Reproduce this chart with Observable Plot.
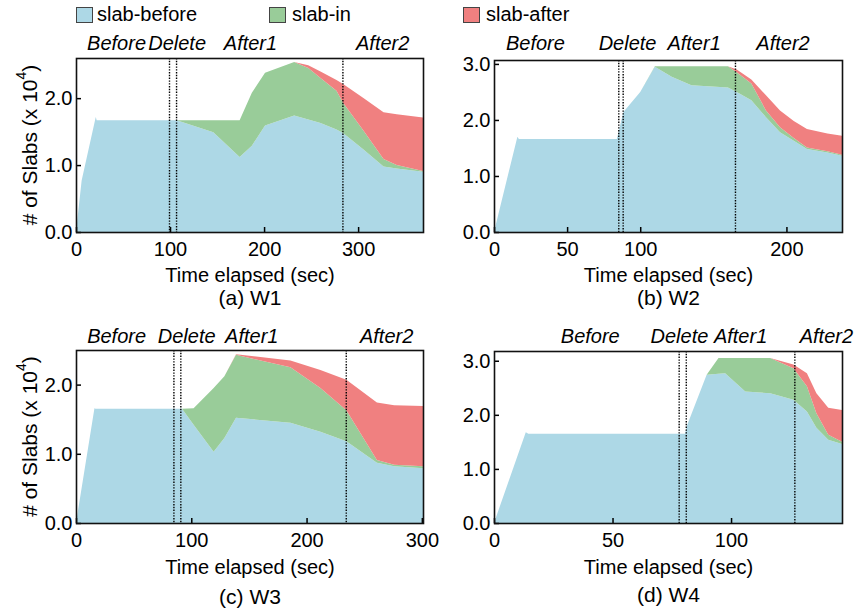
<!DOCTYPE html>
<html><head><meta charset="utf-8">
<script src="https://cdn.jsdelivr.net/npm/d3@7"></script>
<script src="https://cdn.jsdelivr.net/npm/@observablehq/plot@0.6"></script>
<style>
body{margin:0;background:#fff;font-family:"Liberation Sans",Arial,sans-serif;color:#000;}
#root{position:relative;width:857px;height:614px;overflow:hidden;}
.lg-sw{position:absolute;top:7px;width:15px;height:14px;border:1px solid #444;}
.lg-tx{position:absolute;top:3px;font-size:20px;line-height:22px;}
</style></head><body><div id="root"></div>
<script>
// ---------- data ----------
const seriesNames = ["slab-before", "slab-in", "slab-after"];
const seriesColors = ["#add8e6", "#99cc99", "#f08080"];
const phaseNames = ["Before", "Delete", "After1", "After2"];
const captions = ["(a) W1", "(b) W2", "(c) W3", "(d) W4"];
const xLabel = "Time elapsed (sec)";

// W1
const w1Time   = [0, 6, 21, 22, 107, 146, 174, 187, 201, 232, 247, 260, 277, 284, 306, 327, 341, 369];
const w1Before = [0, 0.77, 1.72, 1.67, 1.67, 1.49, 1.12, 1.29, 1.59, 1.74, 1.68, 1.63, 1.53, 1.48, 1.23, 0.98, 0.95, 0.90];
const w1In     = [0, 0, 0, 0, 0, 0.18, 0.55, 0.79, 0.79, 0.80, 0.77, 0.67, 0.58, 0.45, 0.28, 0.11, 0.05, 0.01];
const w1After  = [0, 0, 0, 0, 0, 0, 0, 0, 0, 0, 0.04, 0.10, 0.16, 0.28, 0.49, 0.70, 0.76, 0.80];
const w1PhaseLines = [98.9, 106.4, 283.3];
const w1PhaseLabelX = [42.6, 107, 185, 325.6];
const w1XTicks = [0, 100, 200, 300];
const w1YTicks = [0, 1, 2];

// W2
const w2Time   = [0, 16, 17, 84, 88.5, 100, 110, 121.5, 135, 160, 166, 176, 186, 195.6, 205, 214, 228, 238];
const w2Before = [0, 1.70, 1.66, 1.66, 2.14, 2.50, 2.95, 2.77, 2.62, 2.58, 2.50, 2.35, 2.05, 1.78, 1.63, 1.48, 1.42, 1.36];
const w2In     = [0, 0, 0, 0, 0, 0, 0.01, 0.19, 0.34, 0.38, 0.35, 0.30, 0.12, 0.09, 0.05, 0.03, 0.02, 0.02];
const w2After  = [0, 0, 0, 0, 0, 0, 0, 0, 0, 0, 0.05, 0.07, 0.27, 0.30, 0.30, 0.33, 0.32, 0.34];
const w2PhaseLines = [85, 88, 164.8];
const w2PhaseLabelX = [28, 91, 136.5, 197.3];
const w2XTicks = [0, 50, 100, 200];
const w2YTicks = [0, 1, 2, 3];

// W3
const w3Time   = [0, 16, 17, 92, 102, 119.4, 128.7, 138.8, 186, 212, 234.5, 261, 276, 301];
const w3Before = [0, 1.66, 1.65, 1.65, 1.42, 1.03, 1.23, 1.52, 1.45, 1.32, 1.18, 0.87, 0.82, 0.79];
const w3In     = [0, 0, 0, 0, 0.24, 0.92, 0.89, 0.91, 0.80, 0.63, 0.45, 0.04, 0.02, 0.03];
const w3After  = [0, 0, 0, 0, 0, 0, 0, 0.01, 0.10, 0.26, 0.44, 0.83, 0.86, 0.87];
const w3PhaseLines = [84.5, 90.5, 234];
const w3PhaseLabelX = [34.8, 95.6, 152, 269];
const w3XTicks = [0, 100, 200, 300];
const w3YTicks = [0, 1, 2];

// W4
const w4Time   = [0, 13.4, 14.5, 80.6, 81.3, 89.7, 94.7, 97.5, 106, 116.5, 126.3, 132, 136, 141, 146.8];
const w4Before = [0, 1.68, 1.65, 1.65, 1.79, 2.74, 2.76, 2.77, 2.43, 2.40, 2.28, 2.06, 1.76, 1.54, 1.46];
const w4In     = [0, 0, 0, 0, 0, 0, 0.29, 0.28, 0.62, 0.65, 0.58, 0.47, 0.27, 0.09, 0.04];
const w4After  = [0, 0, 0, 0, 0, 0, 0, 0, 0, 0, 0.07, 0.24, 0.37, 0.50, 0.59];
const w4PhaseLines = [77.9, 80.9, 126.7];
const w4PhaseLabelX = [40.4, 78, 103.8, 140];
const w4XTicks = [0, 50, 100];
const w4YTicks = [0, 1, 2, 3];

// ---------- layout ----------
const panels = [
  {time: w1Time, s: [w1Before, w1In, w1After], lines: w1PhaseLines, lx: w1PhaseLabelX, xt: w1XTicks, yt: w1YTicks,
   xmax: 369, ymax: 2.6, left: 0, top: 28, width: 430, mL: 76, mR: 7, mT: 30, fh: 174, mB: 80, phaseDy: -15, labDy: 43, capDy: 66, ylabel: true},
  {time: w2Time, s: [w2Before, w2In, w2After], lines: w2PhaseLines, lx: w2PhaseLabelX, xt: w2XTicks, yt: w2YTicks,
   xmax: 238, ymax: 3.07, left: 430, top: 28, width: 427, mL: 64, mR: 15, mT: 32, fh: 172, mB: 80, phaseDy: -17, labDy: 43, capDy: 66, ylabel: false},
  {time: w3Time, s: [w3Before, w3In, w3After], lines: w3PhaseLines, lx: w3PhaseLabelX, xt: w3XTicks, yt: w3YTicks,
   xmax: 301, ymax: 2.5, left: 0, top: 318, width: 430, mL: 76, mR: 7, mT: 32, fh: 173, mB: 91, phaseDy: -14, labDy: 44, capDy: 74, ylabel: true},
  {time: w4Time, s: [w4Before, w4In, w4After], lines: w4PhaseLines, lx: w4PhaseLabelX, xt: w4XTicks, yt: w4YTicks,
   xmax: 146.8, ymax: 3.18, left: 430, top: 318, width: 427, mL: 64, mR: 15, mT: 33, fh: 172, mB: 91, phaseDy: -15, labDy: 44, capDy: 72, ylabel: false}
];

const root = document.getElementById("root");

// legend
const legendPos = [[76, 97], [269, 292], [463, 486]];
seriesNames.forEach((name, i) => {
  const sw = document.createElement("div");
  sw.className = "lg-sw";
  sw.style.left = legendPos[i][0] + "px";
  sw.style.background = seriesColors[i];
  root.appendChild(sw);
  const tx = document.createElement("div");
  tx.className = "lg-tx";
  tx.style.left = legendPos[i][1] + "px";
  tx.textContent = name;
  root.appendChild(tx);
});

panels.forEach((p, pi) => {
  const rows = [];
  p.time.forEach((t, i) => {
    seriesNames.forEach((name, k) => rows.push({t, v: p.s[k][i], series: name}));
  });
  const height = p.mT + p.fh + p.mB;
  const fw = p.width - p.mL - p.mR;
  const svg = Plot.plot({
    width: p.width, height,
    marginLeft: p.mL, marginRight: p.mR, marginTop: p.mT, marginBottom: p.mB,
    style: {fontFamily: "Liberation Sans, Arial, sans-serif", fontSize: "20px", color: "#000", background: "transparent", overflow: "visible"},
    x: {domain: [0, p.xmax]},
    y: {domain: [0, p.ymax]},
    color: {domain: seriesNames, range: seriesColors},
    marks: [
      Plot.areaY(rows, {x: "t", y: "v", z: "series", fill: "series"}),
      Plot.ruleX(p.lines, {x: d => d, stroke: "#000", strokeWidth: 1.4, strokeDasharray: "1.4,1.4"}),
      Plot.tickX(p.xt, {x: d => d, stroke: "#000", strokeWidth: 1.5, insetTop: p.fh - 5}),
      Plot.tickY(p.yt, {y: d => d, stroke: "#000", strokeWidth: 1.5, insetRight: fw - 5}),
      Plot.axisX({ticks: p.xt, tickSize: 0, tickPadding: 9, label: null, tickFormat: "d", fontSize: 20}),
      Plot.axisY({ticks: p.yt, tickSize: 0, tickPadding: 4, label: null, tickFormat: ".1f", fontSize: 20}),
      Plot.text(phaseNames, {x: (d, i) => p.lx[i], text: d => d, frameAnchor: "top", dy: p.phaseDy, lineAnchor: "middle", fontStyle: "italic", fontSize: 20}),
      Plot.text([xLabel], {text: d => d, frameAnchor: "bottom", dy: p.labDy, lineAnchor: "middle", fontSize: 20}),
      Plot.text([captions[pi]], {text: d => d, frameAnchor: "bottom", dy: p.capDy, lineAnchor: "middle", fontSize: 21}),
      Plot.frame({stroke: "#111", strokeWidth: 1.6})
    ]
  });
  svg.style.position = "absolute";
  svg.style.left = p.left + "px";
  svg.style.top = p.top + "px";
  svg.style.overflow = "visible";
  if (p.ylabel) {
    const cy = p.mT + p.fh / 2;
    const t = d3.select(svg).append("text")
      .attr("transform", `translate(29,${cy}) rotate(-90)`)
      .attr("text-anchor", "middle")
      .attr("dominant-baseline", "central")
      .attr("font-size", 21)
      .attr("fill", "#000");
    t.append("tspan").text("# of Slabs (x 10");
    t.append("tspan").attr("font-size", 14).attr("dy", "-0.55em").text("4");
    t.append("tspan").attr("dy", "0.37em").text(")");
  }
  root.appendChild(svg);
});
</script>
</body></html>
